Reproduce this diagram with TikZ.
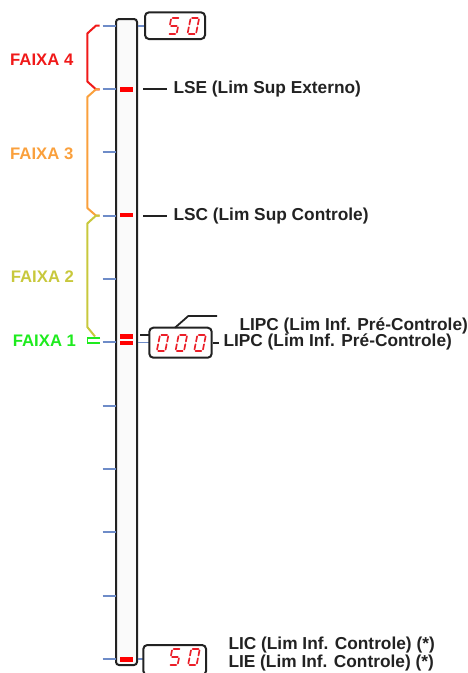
\documentclass[tikz,border=0pt]{standalone}
\usepackage{fontspec}
\setmainfont{Liberation Sans}
\definecolor{tickc}{RGB}{110,140,200}
\definecolor{fx4}{RGB}{240,25,25}
\definecolor{fx3}{RGB}{250,160,60}
\definecolor{fx2}{RGB}{200,200,60}
\definecolor{fx1}{RGB}{30,235,30}
\definecolor{ink}{RGB}{34,34,34}
\definecolor{segred}{RGB}{235,30,40}
\newcommand\lblfont{\fontsize{17.3}{20}\selectfont\bfseries}
\newcommand\fxfont{\fontsize{16.7}{20}\selectfont\bfseries}
\tikzset{
  tickline/.style={draw=tickc, line width=1.8pt},
  marker/.style={fill=red, draw=none},
  lbl/.style={anchor=base west, inner sep=0pt, font=\lblfont, text=ink},
  fxlbl/.style={anchor=base west, inner sep=0pt, font=\fxfont},
  bracestyle/.style={line width=2pt, line join=round},
  disp/.style={draw=ink, line width=2pt, rounded corners=4pt, fill=white, inner sep=0pt},
  seg/.style={draw=segred, line width=1.7pt, line cap=round},
  lead/.style={draw=ink, line width=1.8pt},
}
\newcommand\dgzero[2]{\begin{scope}[shift={(#1,#2)},xslant=0.2,yscale=-1]
  \draw[seg] (1.4,16)--(7.1,16);
  \draw[seg] (8.5,14.6)--(8.5,9.4);
  \draw[seg] (8.5,6.6)--(8.5,1.4);
  \draw[seg] (1.4,0)--(7.1,0);
  \draw[seg] (0,1.4)--(0,6.6);
  \draw[seg] (0,9.4)--(0,14.6);
\end{scope}}
\newcommand\dgfive[2]{\begin{scope}[shift={(#1,#2)},xslant=0.2,yscale=-1]
  \draw[seg] (1.4,16)--(7.1,16);
  \draw[seg] (0,9.4)--(0,14.6);
  \draw[seg] (1.4,8)--(7.1,8);
  \draw[seg] (8.5,6.6)--(8.5,1.4);
  \draw[seg] (1.4,0)--(7.1,0);
\end{scope}}
\begin{document}
\begin{tikzpicture}[x=1pt,y=-1pt]
\useasboundingbox (0,0) rectangle (468,673);
\clip (0,0) rectangle (468,673);
% tube
\node[draw=ink, line width=2pt, rounded corners=3pt, fill=gray!4, minimum width=21pt, minimum height=646pt, inner sep=0pt] (tube) at (126.5,342) {};
% ticks
\foreach \k in {0,...,10} {
  \draw[tickline] (102.7,{25.6+63.34*\k}) -- (115.5,{25.6+63.34*\k});
}
% red markers
\fill[marker] (120,87.3) rectangle (132.7,91.7);
\fill[marker] (120,212.9) rectangle (132.7,217.3);
\fill[marker] (120,334) rectangle (132.7,338.5);
\fill[marker] (120,340.5) rectangle (132.7,345);
\fill[marker] (120,657.3) rectangle (132.7,662);
% displays
\draw[tickline] (137.5,25.6) -- (146,25.6);
\node[disp, minimum width=60pt, minimum height=26.7pt] (dtop) at (175,25.7) {};
\dgfive{168.1}{33.9}
\dgzero{187.5}{33.9}
\draw[tickline] (137.5,342.5) -- (149,342.5);
\draw[lead] (140,335.3) -- (149.3,335.3);
\node[disp, minimum width=62.4pt, minimum height=30pt] (dmid) at (180.5,342.7) {};
\dgzero{156.8}{350.9}
\dgzero{175.5}{350.9}
\dgzero{194.2}{350.9}
\draw[tickline] (137.5,659) -- (143.3,659);
\node[disp, minimum width=62.7pt, minimum height=30pt] (dbot) at (174.7,660) {};
\dgfive{169.1}{664.9}
\dgzero{188.1}{664.9}
% leads and labels
\node[lbl] (lse) at (173.3,93.8) {LSE (Lim Sup Externo)};
\draw[lead] (143.3,89) -- (166.7,89);
\node[lbl] (lsc) at (173.3,220.6) {LSC (Lim Sup Controle)};
\draw[lead] (143.3,215.6) -- (166.7,215.6);
\node[lbl] (lipc1) at (239.3,330.7) {LIPC (Lim Inf. Pré-Controle)};
\node[lbl] (lipc2) at (223.3,346.2) {LIPC (Lim Inf. Pré-Controle)};
\coordinate (k1) at (188.3,316);
\coordinate (k2) at (217,316);
\draw[lead] (175,327.7) -- (k1) -- (k2);
\draw[lead] (dmid.east) -- (218.5,342.7);
\node[lbl] (lic) at (228.3,649) {LIC (Lim Inf. Controle) (*)};
\node[lbl] (lie) at (228.3,667.7) {LIE (Lim Inf. Controle) (*)};
% braces
\draw[bracestyle, fx4] (99.5,25.6) -- (96,25.6) -- (87.3,33.5) -- (87.3,81.5) -- (96,89.3) -- (99.5,89.3);
\draw[bracestyle, fx3] (99.5,89.3) -- (96,89.3) -- (87.3,97) -- (87.3,208) -- (96,215.6) -- (99.5,215.6);
\draw[bracestyle, fx2] (99.5,215.6) -- (96,215.6) -- (87.3,223.5) -- (87.3,327) -- (95,336.5);
\draw[fx1, line width=1.8pt] (100,338.2) -- (87.5,338.2) -- (87.5,342.7) -- (100,342.7);
\node[fxlbl, text=fx4] (f4) at (10,65) {FAIXA 4};
\node[fxlbl, text=fx3] (f3) at (10,159.3) {FAIXA 3};
\node[fxlbl, text=fx2] (f2) at (10.7,282.7) {FAIXA 2};
\node[fxlbl, text=fx1] (f1) at (12.7,346) {FAIXA 1};
\end{tikzpicture}
\end{document}
